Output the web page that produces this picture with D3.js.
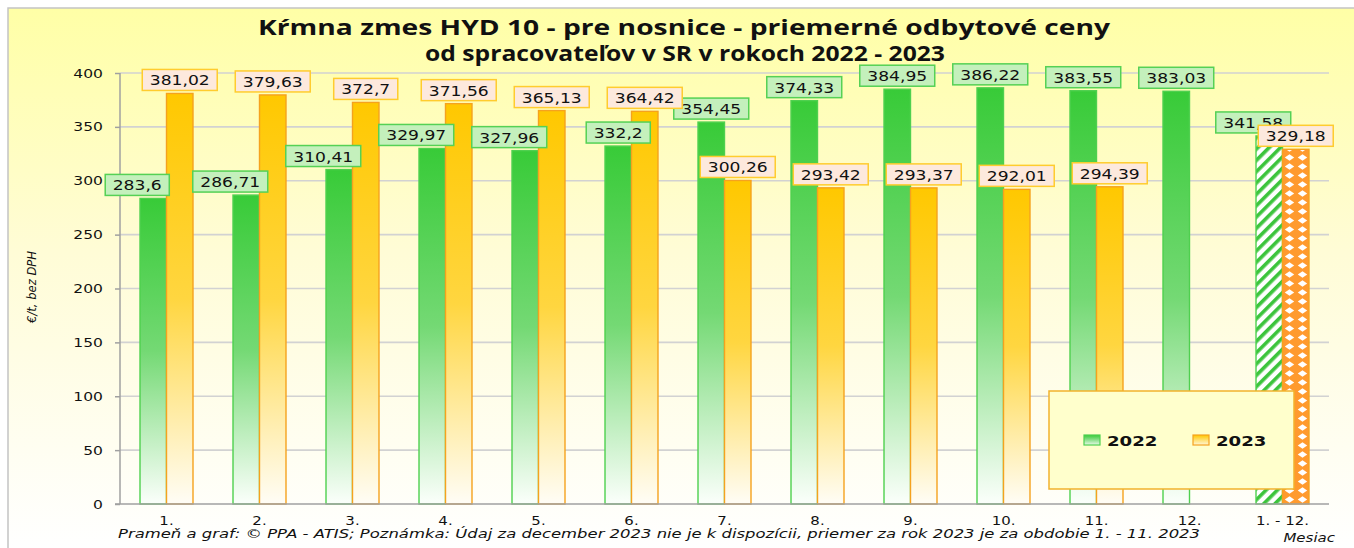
<!DOCTYPE html>
<html>
<head>
<meta charset="utf-8">
<script src="https://cdn.jsdelivr.net/npm/d3@7"></script>
<style>
body{margin:0;background:#fff;}
svg{display:block;}
</style>
</head>
<body>
<svg id="chart" width="1354" height="548"></svg>
<script>
// data
var months=["1.","2.","3.","4.","5.","6.","7.","8.","9.","10.","11.","12.","1. - 12."];
var v2022=[283.6,286.71,310.41,329.97,327.96,332.2,354.45,374.33,384.95,386.22,383.55,383.03,341.58];
var v2023=[381.02,379.63,372.7,371.56,365.13,364.42,300.26,293.42,293.37,292.01,294.39,null,329.18];
var years=["2022","2023"];
var yTicks=[0,50,100,150,200,250,300,350,400];
var title1="Kŕmna zmes HYD 10 - pre nosnice - priemerné odbytové ceny";
var title2="od spracovateľov v SR v rokoch 2022 - 2023";
var note="Prameň a graf: © PPA - ATIS; Poznámka: Údaj za december 2023 nie je k dispozícii, priemer za rok 2023 je za obdobie 1. - 11. 2023";

var svg=d3.select("#chart");
var defs=svg.append("defs");

// background gradient of the chart area
var bg=defs.append("linearGradient").attr("id","bg").attr("gradientUnits","userSpaceOnUse")
	.attr("x1",0).attr("y1",8).attr("x2",0).attr("y2",548);
bg.append("stop").attr("offset","0%").attr("stop-color","#ffffa6");
bg.append("stop").attr("offset","45%").attr("stop-color","#fffcd6");
bg.append("stop").attr("offset","100%").attr("stop-color","#ffffff");

function grad(id,c1,c2,c3){
	var g=defs.append("linearGradient").attr("id",id).attr("x1",0).attr("y1",0).attr("x2",0).attr("y2",1);
	g.append("stop").attr("offset","0%").attr("stop-color",c1);
	g.append("stop").attr("offset","50%").attr("stop-color",c2);
	g.append("stop").attr("offset","100%").attr("stop-color",c3);
}
grad("gGreen","#38cb38","#74d974","#fbfffb");
grad("gOrange","#ffc800","#ffd640","#fffdf6");
grad("gGreenSw","#38cb38","#8de08d","#e8fae8");
grad("gOrangeSw","#ffc800","#ffe070","#fff6d8");

// hatch for the yearly average 2022
var ph=defs.append("pattern").attr("id","hatch").attr("patternUnits","userSpaceOnUse")
	.attr("width",8).attr("height",8).attr("patternTransform","rotate(45)");
ph.append("rect").attr("width",8).attr("height",8).attr("fill","#fff");
ph.append("rect").attr("width",3.6).attr("height",8).attr("fill","#3cc43c");
// diamonds for the yearly average 2023
var pd=defs.append("pattern").attr("id","diam").attr("patternUnits","userSpaceOnUse")
	.attr("width",13).attr("height",9).attr("x",1283);
pd.append("rect").attr("width",13).attr("height",9).attr("fill","#ff9a2e");
pd.append("polygon").attr("points","6.5,1.2 11.2,4.5 6.5,7.8 1.8,4.5").attr("fill","#fff");

// chart frame
svg.append("rect").attr("x",8).attr("y",8).attr("width",1400).attr("height",600)
	.attr("fill","url(#bg)").attr("stroke","#c4c4c4").attr("stroke-width",1.5);

// scales
var y=d3.scaleLinear().domain([0,400]).range([504,73]);
var x0=d3.scaleBand().domain(months).range([120,1329]).padding(0);
var x1=d3.scaleBand().domain(years).range([0,x0.bandwidth()]).paddingInner(0).paddingOuter(0.755);

// grid lines
svg.append("g").selectAll("line").data(yTicks.filter(function(d){return d>0;})).enter().append("line")
	.attr("x1",120).attr("x2",1329).attr("y1",function(d){return y(d);}).attr("y2",function(d){return y(d);})
	.attr("stroke","#d2d2d2").attr("stroke-width",1.6);

// y axis
var yAxis=svg.append("g").attr("transform","translate(120,0)")
	.call(d3.axisLeft(y).tickValues(yTicks).tickSize(5).tickPadding(0).tickFormat(function(d){return d;}));
yAxis.select(".domain").attr("stroke","#a0a0a0").attr("stroke-width",1.5).attr("d","M0,73V504");
yAxis.selectAll(".tick line").attr("stroke","#a0a0a0").attr("stroke-width",1.5);
yAxis.selectAll(".tick text").text("").each(function(d){
	d3.select(this.parentNode).append("g").attr("transform","translate(-17,4) scale(1.35,1)")
		.append("text").attr("text-anchor","end").attr("font-family","DejaVu Sans").attr("font-size",11.5)
		.attr("fill","#111").text(d);
});

// bars
var greenAt=function(i){return x0(months[i])+x1("2022");};
var orangeAt=function(i){return x0(months[i])+x1("2023");};
var bw=x1.bandwidth();
var last=months.length-1;

svg.append("g").selectAll("rect").data(v2022).enter().append("rect")
	.attr("x",function(d,i){return greenAt(i);}).attr("y",function(d){return y(d);})
	.attr("width",bw).attr("height",function(d){return 504-y(d);})
	.attr("fill",function(d,i){return i==last?"url(#hatch)":"url(#gGreen)";})
	.attr("stroke","#4fd04f").attr("stroke-width",1.4);

svg.append("g").selectAll("rect").data(v2023).enter().filter(function(d){return d!=null;}).append("rect")
	.attr("x",function(d,i){return orangeAt(v2023.indexOf(d));}).attr("y",function(d){return y(d);})
	.attr("width",bw).attr("height",function(d){return 504-y(d);})
	.attr("fill",function(d){return v2023.indexOf(d)==last?"url(#diam)":"url(#gOrange)";})
	.attr("stroke","#f5a21e").attr("stroke-width",1.4);

// x axis
svg.append("line").attr("x1",115).attr("x2",1329).attr("y1",504).attr("y2",504)
	.attr("stroke","#a0a0a0").attr("stroke-width",1.5);
months.forEach(function(m){
	svg.append("g").attr("transform","translate("+(x0(m)+x0.bandwidth()/2)+",525) scale(1.3,1)")
		.append("text").attr("text-anchor","middle").attr("font-family","DejaVu Sans").attr("font-size",11.5)
		.attr("fill","#111").text(m);
});

// value labels: box with text, bottom few px above the bar top
function label(cx,val,fill,stroke){
	var g=svg.append("g");
	var t=g.append("g").attr("transform","translate("+cx+","+(y(val)-8)+") scale(1.27,1)")
		.append("text").attr("text-anchor","middle").attr("font-family","DejaVu Sans").attr("font-size",13.5)
		.attr("fill","#111").text(String(val).replace(".",","));
	var w=t.node().getComputedTextLength()*1.27+15;
	g.insert("rect",":first-child").attr("x",cx-w/2).attr("y",y(val)-24).attr("width",w).attr("height",21)
		.attr("fill",fill).attr("stroke",stroke).attr("stroke-width",1.5);
}
v2022.forEach(function(v,i){
	// first months and the average are shifted left in the original
	var shift=(i<5||i==last)?-16:0;
	label(greenAt(i)+bw/2+shift,v,"#c4f0bc","#55d155");
});
v2023.forEach(function(v,i){
	if(v==null) return;
	label(orangeAt(i)+bw/2,v,"#fde9dd","#ffcc2e");
});

// legend
svg.append("rect").attr("x",1049).attr("y",391).attr("width",245).attr("height",98)
	.attr("fill","#ffffcc").attr("stroke","#f2b22c").attr("stroke-width",1.5);
var legX=[1084,1193];
years.forEach(function(yr,i){
	svg.append("rect").attr("x",legX[i]).attr("y",435).attr("width",16).attr("height",10)
		.attr("fill",i==0?"url(#gGreenSw)":"url(#gOrangeSw)").attr("stroke",i==0?"#4fd04f":"#f5a21e").attr("stroke-width",1.2);
	svg.append("g").attr("transform","translate("+(legX[i]+23)+",446) scale(1.25,1)")
		.append("text").attr("font-family","DejaVu Sans").attr("font-weight","bold").attr("font-size",14.5)
		.attr("fill","#111").text(yr);
});

// titles
svg.append("text").attr("x",684).attr("y",35).attr("text-anchor","middle").attr("font-family","Open Sans")
	.attr("font-weight","bold").attr("font-size",21).attr("textLength",852).attr("lengthAdjust","spacingAndGlyphs")
	.attr("fill","#111").text(title1);
svg.append("text").attr("x",685).attr("y",61).attr("text-anchor","middle").attr("font-family","Open Sans")
	.attr("font-weight","bold").attr("font-size",21).attr("textLength",520).attr("lengthAdjust","spacingAndGlyphs")
	.attr("fill","#111").text(title2);

// axis titles and note
svg.append("g").attr("transform","translate(36,287) rotate(-90)")
	.append("text").attr("text-anchor","middle").attr("font-family","DejaVu Sans").attr("font-style","italic")
	.attr("font-size",12.5).attr("textLength",72).attr("lengthAdjust","spacingAndGlyphs")
	.attr("fill","#111").text("€/t, bez DPH");
svg.append("text").attr("x",118).attr("y",538).attr("font-family","DejaVu Sans").attr("font-style","italic")
	.attr("font-size",12.5).attr("textLength",1082).attr("lengthAdjust","spacingAndGlyphs")
	.attr("fill","#111").text(note);
svg.append("g").attr("transform","translate(1335,542) scale(1.2,1)")
	.append("text").attr("text-anchor","end").attr("font-family","DejaVu Sans").attr("font-style","italic")
	.attr("font-size",12.5).attr("fill","#111").text("Mesiac");
</script>
</body>
</html>
